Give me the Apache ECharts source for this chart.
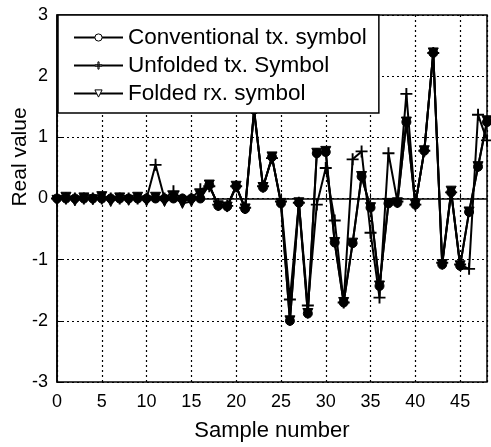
<!DOCTYPE html>
<html>
<head>
<meta charset="utf-8">
<script src="https://cdn.jsdelivr.net/npm/echarts@6/dist/echarts.min.js"></script>
<style>
  html, body { margin: 0; padding: 0; background: #fff; }
  #chart { width: 491px; height: 447px; }
</style>
</head>
<body>
<div id="chart"></div>
<script>
// sample numbers 0..48
const samples = Array.from({ length: 49 }, (_, i) => i);

const conventional = [
  0, 0, 0, 0, 0, 0, 0, 0, 0, 0, 0, 0, 0, 0, 0, 0, 0,
  0.22, -0.12, -0.13, 0.2, -0.17, 1.45, 0.18, 0.68, -0.08, -2.0, -0.07, -1.88,
  0.74, 0.76, -0.72, -1.7, -0.73, 0.36, -0.15, -1.43, -0.08, -0.07, 1.25, -0.1,
  0.78, 2.38, -1.08, 0.1, -1.1, -0.22, 0.52, 1.25,
];

const unfolded = [
  0, 0, 0, 0, 0, 0, 0, 0, 0, 0, 0, 0.55, 0, 0.12, -0.02, 0, 0.15,
  0.2, -0.1, -0.12, 0.2, -0.15, 1.42, 0.2, 0.66, -0.05, -1.65, -0.07, -1.75,
  -0.1, 0.5, -0.36, -1.7, 0.64, 0.77, -0.56, -1.62, 0.74, -0.05, 1.71, -0.1,
  0.78, 2.38, -1.05, 0.1, -1.08, -1.15, 1.37, 0.95,
];

const folded = [
  -0.03, 0.02, -0.04, 0.01, -0.02, 0.03, -0.05, 0.01, -0.03, 0.02, -0.04, 0.02, -0.05, 0.02, -0.08, -0.05, 0.05,
  0.22, -0.12, -0.14, 0.2, -0.17, 1.45, 0.18, 0.68, -0.08, -2.0, -0.07, -1.88,
  0.74, 0.77, -0.72, -1.7, -0.73, 0.36, -0.15, -1.43, -0.08, -0.07, 1.25, -0.1,
  0.78, 2.38, -1.08, 0.12, -1.1, -0.22, 0.52, 1.27,
];

const xTicks = [0, 5, 10, 15, 20, 25, 30, 35, 40, 45];
const yTicks = [-3, -2, -1, 0, 1, 2, 3];

const font = "Liberation Sans";
const plus = "path://M0,4.2 L10,4.2 L10,5.8 L0,5.8 Z M4.2,0 L5.8,0 L5.8,10 L4.2,10 Z";

const pairs = (ys) => samples.map((x, i) => [x, ys[i]]);

const lineSeries = (name, ys, symbol, extra) =>
  Object.assign(
    {
      name,
      type: "line",
      data: pairs(ys),
      symbol,
      symbolSize: 8,
      showAllSymbol: true,
      lineStyle: { color: "#000", width: 2 },
      itemStyle: { color: "#000", borderColor: "#000", borderWidth: 1 },
      emphasis: { disabled: true },
      animation: false,
    },
    extra
  );

const chart = echarts.init(document.getElementById("chart"));
chart.setOption({
  backgroundColor: "#fff",
  animation: false,
  grid: {
    left: 57,
    right: 4,
    top: 15,
    bottom: 59,
    show: true,
    borderColor: "#000",
    borderWidth: 1.5,
  },
  legend: {
    left: 58,
    top: 15,
    orient: "vertical",
    backgroundColor: "#fff",
    borderColor: "#000",
    borderWidth: 1.5,
    borderRadius: 0,
    padding: [11, 12, 8, 15],
    itemGap: 5,
    itemWidth: 49,
    itemHeight: 9,
    itemStyle: { color: "#fff", borderColor: "#000", borderWidth: 1 },
    textStyle: { fontFamily: font, fontSize: 22.5, color: "#000", lineHeight: 22 },
    data: ["Conventional tx. symbol", "Unfolded tx. Symbol", "Folded rx. symbol"],
  },
  xAxis: {
    type: "value",
    min: 0,
    max: 48,
    interval: 5,
    name: "Sample number",
    nameLocation: "middle",
    nameGap: 38,
    nameTextStyle: { fontFamily: font, fontSize: 22, color: "#000" },
    axisLine: { show: true, lineStyle: { color: "#000", width: 1.5 } },
    axisTick: { inside: true, length: 5, lineStyle: { color: "#000" } },
    axisLabel: {
      fontFamily: font,
      fontSize: 18,
      color: "#000",
      margin: 11,
      showMaxLabel: false,
      formatter: (v) => (xTicks.includes(v) ? String(v) : ""),
    },
    splitLine: { show: true, lineStyle: { color: "#000", type: [2, 3], width: 1.2 } },
  },
  yAxis: {
    type: "value",
    min: -3,
    max: 3,
    interval: 1,
    axisLine: { show: true, lineStyle: { color: "#000", width: 1.5 } },
    axisTick: { inside: true, length: 5, lineStyle: { color: "#000" } },
    axisLabel: {
      fontFamily: font,
      fontSize: 18,
      color: "#000",
      margin: 9,
      formatter: (v) => (yTicks.includes(v) ? String(v) : ""),
    },
    splitLine: { show: true, lineStyle: { color: "#000", type: [2, 3], width: 1.2 } },
  },
  graphic: [
    {
      type: "text",
      x: 20,
      y: 157,
      rotation: Math.PI / 2,
      style: {
        text: "Real value",
        font: "21px " + font,
        fill: "#000",
        align: "center",
        verticalAlign: "middle",
      },
    },
  ],
  series: [
    lineSeries("Conventional tx. symbol", conventional, "circle", { symbolSize: 9 }),
    lineSeries("Unfolded tx. Symbol", unfolded, plus, {
      symbolSize: 12,
      itemStyle: { color: "#000", borderWidth: 0 },
    }),
    lineSeries("Folded rx. symbol", folded, "triangle", { symbolSize: 10, symbolRotate: 180 }),
  ],
});
</script>
</body>
</html>
